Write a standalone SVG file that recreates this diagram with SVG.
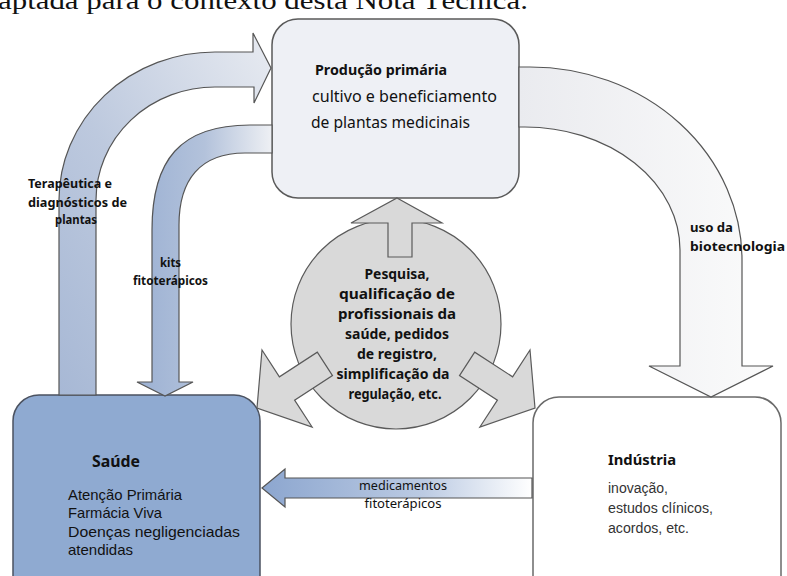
<svg xmlns="http://www.w3.org/2000/svg" width="787" height="576" viewBox="0 0 787 576">
<style>
.t{font-family:"Noto Sans","Open Sans","DejaVu Sans",sans-serif;fill:#111}
.b{font-weight:700}
.a{font-family:"Liberation Sans",Arial,sans-serif;fill:#333}
.s{font-family:"Liberation Sans",Arial,sans-serif;fill:#111}
.box{stroke-width:1.5}
.conn{stroke:#555;stroke-width:1.2;stroke-linejoin:miter}
.hub{fill:#d9d9d9;stroke:#5a5a5a;stroke-width:1.2}
</style>
<defs>
<linearGradient id="gOuter" x1="0" y1="1" x2="1" y2="0">
<stop offset="0" stop-color="#a7b8d5"/>
<stop offset="0.45" stop-color="#bdc9de"/>
<stop offset="1" stop-color="#e8ebf1"/>
</linearGradient>
<linearGradient id="gKits" x1="0" y1="0" x2="1" y2="0">
<stop offset="0" stop-color="#9cb1d3"/>
<stop offset="0.5" stop-color="#b3c2db"/>
<stop offset="1" stop-color="#eef0f4"/>
</linearGradient>
<linearGradient id="gRight" x1="0" y1="0" x2="1" y2="0">
<stop offset="0" stop-color="#eaebef"/>
<stop offset="1" stop-color="#fbfbfb"/>
</linearGradient>
<linearGradient id="gMed" x1="0" y1="0" x2="1" y2="0">
<stop offset="0" stop-color="#8ca6cf"/>
<stop offset="0.6" stop-color="#bccbe3"/>
<stop offset="1" stop-color="#ffffff"/>
</linearGradient>
</defs>

<text x="-2" y="9" font-family="Liberation Serif,'Times New Roman',serif" font-size="26" fill="#111" textLength="530" lengthAdjust="spacingAndGlyphs">aptada para o contexto desta Nota Técnica.</text>

<g id="producao">
<rect class="box" x="272" y="19" width="247" height="179" rx="26" fill="#eef0f5" stroke="#5a5a5a"/>
<text class="t b" x="315" y="75" font-size="14" textLength="132" lengthAdjust="spacingAndGlyphs">Produção primária</text>
<text class="t" x="312" y="102" font-size="16" textLength="185" lengthAdjust="spacingAndGlyphs">cultivo e beneficiamento</text>
<text class="t" x="311" y="128" font-size="16" textLength="159" lengthAdjust="spacingAndGlyphs">de plantas medicinais</text>
</g>

<g id="saude">
<rect class="box" x="13" y="395" width="247" height="210" rx="26" fill="#8faad1" stroke="#4b5260"/>
<text class="t b" x="92" y="467" font-size="16" textLength="48" lengthAdjust="spacingAndGlyphs">Saúde</text>
<text class="s" x="68" y="500" font-size="15" textLength="114" lengthAdjust="spacingAndGlyphs">Atenção Primária</text>
<text class="s" x="68" y="518" font-size="15" textLength="94" lengthAdjust="spacingAndGlyphs">Farmácia Viva</text>
<text class="s" x="68" y="537" font-size="15" textLength="172" lengthAdjust="spacingAndGlyphs">Doenças negligenciadas</text>
<text class="s" x="68" y="555" font-size="15" textLength="65" lengthAdjust="spacingAndGlyphs">atendidas</text>
</g>

<g id="industria">
<rect class="box" x="533" y="397" width="248" height="210" rx="26" fill="#ffffff" stroke="#6a6a6a"/>
<text class="t b" x="608" y="465" font-size="15" textLength="68" lengthAdjust="spacingAndGlyphs">Indústria</text>
<text class="a" x="608" y="493" font-size="14" textLength="60" lengthAdjust="spacingAndGlyphs">inovação,</text>
<text class="a" x="608" y="513" font-size="14" textLength="105" lengthAdjust="spacingAndGlyphs">estudos clínicos,</text>
<text class="a" x="608" y="533" font-size="14" textLength="81" lengthAdjust="spacingAndGlyphs">acordos, etc.</text>
</g>

<g id="pesquisa">
<circle class="hub" cx="396" cy="324" r="105"/>
<polygon class="hub" points="397,198 442,223 412,223 412,257 388,257 388,223 351,223"/>
<polygon class="hub" points="257,408 262,350 279.4,376.8 317.3,352.2 332.5,375.6 294.6,400.2 312.1,427"/>
<polygon class="hub" points="535,408 530,350 512.6,376.8 474.7,352.2 459.5,375.6 497.4,400.2 479.9,427"/>
<g class="t b" font-size="14" text-anchor="middle">
<text x="397" y="279" textLength="65" lengthAdjust="spacingAndGlyphs">Pesquisa,</text>
<text x="397" y="299" textLength="116" lengthAdjust="spacingAndGlyphs">qualificação de</text>
<text x="397" y="319" textLength="118" lengthAdjust="spacingAndGlyphs">profissionais da</text>
<text x="397" y="339" textLength="104" lengthAdjust="spacingAndGlyphs">saúde, pedidos</text>
<text x="397" y="359" textLength="80" lengthAdjust="spacingAndGlyphs">de registro,</text>
<text x="393" y="379" textLength="113" lengthAdjust="spacingAndGlyphs">simplificação da</text>
<text x="395" y="399" textLength="93" lengthAdjust="spacingAndGlyphs">regulação, etc.</text>
</g>
</g>

<g id="connectors">
<path class="conn" fill="url(#gOuter)" d="M59,395 L59,200 A156,148 0 0 1 215,52 L253,52 L253,33 L271,68 L254,103 L254,87 L215,87 A119,113 0 0 0 96,200 L96,395 Z"/>
<path class="conn" fill="url(#gKits)" d="M272,125 L250,125 C180,125 152,160 152,230 L152,382 L137,382 L165,396 L193,382 L179,382 L179,225 C179,180 200,153 245,153 L272,153 Z"/>
<path class="conn" fill="url(#gRight)" stroke="#444" d="M519,67 L530,67 A212,193 0 0 1 742,260 L742,366 L773,366 L711,397 L649,366 L680,366 L680,250 A155,123 0 0 0 525,127 L519,127 Z"/>
<path class="conn" fill="url(#gMed)" d="M262,488 L285,469 L285,478 L532,478 L532,498 L285,498 L285,507 Z"/>
<g class="t b" font-size="12.5">
<text x="28" y="188" textLength="84" lengthAdjust="spacingAndGlyphs">Terapêutica e</text>
<text x="28" y="207" textLength="99" lengthAdjust="spacingAndGlyphs">diagnósticos de</text>
<text x="55" y="224" textLength="42" lengthAdjust="spacingAndGlyphs">plantas</text>
<text x="160" y="267" textLength="21" lengthAdjust="spacingAndGlyphs">kits</text>
<text x="133" y="285" textLength="75" lengthAdjust="spacingAndGlyphs">fitoterápicos</text>
<text x="690" y="232" textLength="43" lengthAdjust="spacingAndGlyphs">uso da</text>
<text x="690" y="251" textLength="95" lengthAdjust="spacingAndGlyphs">biotecnologia</text>
</g>
<g class="t" font-size="13" text-anchor="middle" fill="#222">
<text x="403" y="490" textLength="88" lengthAdjust="spacingAndGlyphs">medicamentos</text>
<text x="403" y="508" textLength="77" lengthAdjust="spacingAndGlyphs">fitoterápicos</text>
</g>
</g>
</svg>
